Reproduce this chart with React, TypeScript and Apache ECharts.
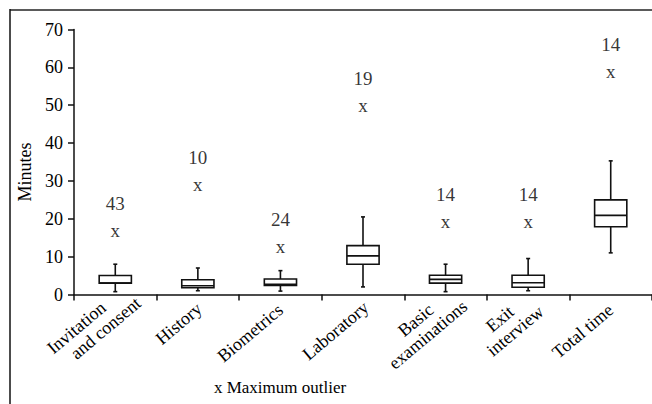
import React, { useEffect, useRef } from "react";
import * as echarts from "echarts";

const categories = [
  "Invitation\nand consent",
  "History",
  "Biometrics",
  "Laboratory",
  "Basic\nexaminations",
  "Exit\ninterview",
  "Total time",
];
const whiskerLow = [0.75, 1.0, 0.9, 2.0, 0.75, 1.0, 11.0];
const q1 = [3.0, 1.8, 2.4, 8.0, 3.0, 1.9, 17.9];
const median = [3.0, 2.3, 2.7, 10.2, 4.0, 3.1, 20.9];
const q3 = [5.0, 3.9, 4.1, 12.9, 5.1, 5.1, 25.0];
const whiskerHigh = [8.0, 7.0, 6.3, 20.5, 8.0, 9.5, 35.3];
const maxOutlier = [17, 29, 12.6, 50, 19.4, 19.4, 59];
const outlierCount = [43, 10, 24, 19, 14, 14, 14];
const yTicks = [0, 10, 20, 30, 40, 50, 60, 70];

// per-line shift of the rotated category labels along their own direction (styling)
const LABEL_SHIFT = [[0, 22], [2], [0], [4], [17, 17], [5, 9], [0]];

const FONT = "Liberation Serif";
const TXT = "#000";
const XFS = 18;

export default function App() {
  const ref = useRef<HTMLDivElement>(null);
  useEffect(() => {
    if (!ref.current) return;
    const chart = echarts.init(ref.current, undefined, { renderer: "svg" });
    const boxData = categories.map((_, i) => [
      i,
      whiskerLow[i],
      q1[i],
      median[i],
      q3[i],
      whiskerHigh[i],
    ]);
    const outData = categories.map((_, i) => [i, maxOutlier[i], outlierCount[i]]);
    const lineStyle = { stroke: "#111", lineWidth: 1.6 };
    const rich: Record<string, any> = {};
    LABEL_SHIFT.forEach((arr, i) =>
      arr.forEach((s, j) => {
        rich["s" + i + "_" + j] = {
          align: "center",
          fontFamily: FONT,
          fontSize: XFS,
          color: TXT,
          lineHeight: 19,
          padding: [0, -s, 0, s],
        };
      })
    );
    chart.setOption({
      animation: false,
      textStyle: { fontFamily: FONT },
      grid: { left: 74, top: 29.5, width: 587, height: 265 },
      xAxis: {
        type: "category",
        data: categories,
        axisLine: { show: true, lineStyle: { color: "#111", width: 1.5 } },
        axisTick: { show: true, length: 6, lineStyle: { color: "#111", width: 1.5 } },
        axisLabel: {
          rotate: 40,
          interval: 0,
          margin: 13,
          fontFamily: FONT,
          fontSize: XFS,
          color: TXT,
          lineHeight: 19,
          formatter: (v: string, idx: number) =>
            v
              .split("\n")
              .map((s, j) => "{s" + idx + "_" + j + "|" + s + "}")
              .join("\n"),
          rich,
        },
      },
      yAxis: {
        type: "value",
        min: yTicks[0],
        max: yTicks[yTicks.length - 1],
        interval: 10,
        splitLine: { show: false },
        axisLine: { show: true, lineStyle: { color: "#111", width: 1.5 } },
        axisTick: { show: true, length: 6, lineStyle: { color: "#111", width: 1.5 } },
        axisLabel: { margin: 11, fontFamily: FONT, fontSize: 18, color: TXT },
      },
      graphic: [
        {
          type: "line",
          shape: { x1: 10, y1: 10, x2: 652, y2: 10 },
          style: { stroke: "#5a5a5a", lineWidth: 2 },
        },
        {
          type: "line",
          shape: { x1: 10, y1: 9, x2: 10, y2: 404 },
          style: { stroke: "#111", lineWidth: 1.5 },
        },
        {
          type: "text",
          x: 25,
          y: 172,
          rotation: Math.PI / 2,
          style: {
            text: "Minutes",
            fontFamily: FONT,
            fontSize: 18,
            fill: TXT,
            align: "center",
            verticalAlign: "middle",
          },
        },
        {
          type: "text",
          x: 280,
          y: 387,
          style: {
            text: "x Maximum outlier",
            fontFamily: FONT,
            fontSize: 17,
            fill: TXT,
            align: "center",
            verticalAlign: "middle",
          },
        },
      ],
      series: [
        {
          type: "custom",
          data: boxData,
          encode: { x: 0, y: [1, 2, 3, 4, 5] },
          renderItem: (params: any, api: any) => {
            const xi = api.value(0);
            const lo = api.coord([xi, api.value(1)]);
            const b1 = api.coord([xi, api.value(2)]);
            const md = api.coord([xi, api.value(3)]);
            const b3 = api.coord([xi, api.value(4)]);
            const hi = api.coord([xi, api.value(5)]);
            const bw = api.size([1, 0])[0] * 0.39;
            const hw = bw / 2;
            const cx = lo[0];
            const cap = 2;
            return {
              type: "group",
              children: [
                { type: "line", shape: { x1: cx, y1: lo[1], x2: cx, y2: b1[1] }, style: lineStyle },
                { type: "line", shape: { x1: cx, y1: b3[1], x2: cx, y2: hi[1] }, style: lineStyle },
                { type: "line", shape: { x1: cx - cap, y1: lo[1], x2: cx + cap, y2: lo[1] }, style: lineStyle },
                { type: "line", shape: { x1: cx - cap, y1: hi[1], x2: cx + cap, y2: hi[1] }, style: lineStyle },
                {
                  type: "rect",
                  shape: { x: cx - hw, y: b3[1], width: bw, height: b1[1] - b3[1] },
                  style: { fill: "#fff", stroke: "#111", lineWidth: 1.6 },
                },
                { type: "line", shape: { x1: cx - hw, y1: md[1], x2: cx + hw, y2: md[1] }, style: lineStyle },
              ],
            };
          },
        },
        {
          type: "scatter",
          data: outData,
          symbolSize: 1,
          itemStyle: { color: "transparent" },
          label: {
            show: true,
            position: "inside",
            formatter: "x",
            fontFamily: FONT,
            fontSize: 19,
            color: TXT,
          },
          labelLayout: { hideOverlap: false },
        },
        {
          type: "scatter",
          data: outData,
          symbolSize: 1,
          itemStyle: { color: "transparent" },
          label: {
            show: true,
            position: "top",
            distance: 17,
            formatter: (p: any) => String(p.value[2]),
            fontFamily: FONT,
            fontSize: 19,
            color: TXT,
          },
          labelLayout: { hideOverlap: false },
        },
      ],
    });
    return () => chart.dispose();
  }, []);
  return (
    <div
      ref={ref}
      style={{ position: "absolute", left: 0, top: 0, width: 652, height: 404 }}
    />
  );
}
